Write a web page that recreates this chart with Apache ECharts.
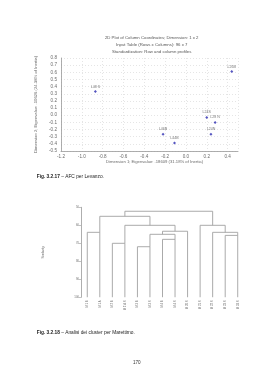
<!DOCTYPE html>
<html><head><meta charset="utf-8">
<script src="https://cdn.jsdelivr.net/npm/echarts@6/dist/echarts.min.js"></script>
<style>html,body{margin:0;padding:0;background:#fff}#c{width:268px;height:380px}</style>
</head><body><div id="c"></div>
<script>
// ---- Top chart (correspondence analysis) ----
const titleLines = ['2D Plot of Column Coordinates; Dimension: 1 x 2','Input Table (Rows x Columns): 96 x 7','Standardization: Row and column profiles'];
const xAxisTitle = 'Dimension 1; Eigenvalue: .18609 (31.18% of Inertia)';
const yAxisTitle = 'Dimension 2; Eigenvalue: .10626 (24.38% of Inertia)';
const pointLabels = ['L26B','L48 S','L24S','L28 N','L24N','L46B','L44B'];
const pointX = [0.44,-0.87,0.20,0.28,0.24,-0.22,-0.11];
const pointY = [0.61,0.33,-0.03,-0.10,-0.265,-0.265,-0.387];
// ---- Bottom chart (dendrogram) ----
const leafNames = ['M 1 B','M 1 A','M 2 B','M 2 A S','M 3 B','M 3 S','M 4 B','M 4 S','M 20 S','M 21 S','M 22 S','M 23 S','M 24 S'];
// merges: node ids 0..12 are leaves, merge k creates node 13+k
const mergeA = [4,2,6,11,13,0,10,17,14,9,18,23];
const mergeB = [5,3,7,12,15,1,16,8,20,19,21,22];
const mergeH = [71.9,70,67.8,65.6,65,63.9,63.9,63.3,60,60,55,52.2];
const simTitle = 'Similarity';
const caption1 = ['Fig. 3.2.17','– AFC per Levanzo.'];
const caption2 = ['Fig. 3.2.18','– Analisi dei cluster per Marettimo.'];
const pageNo = '170';

const FF = 'Liberation Sans, Arial, sans-serif';
const GRAY = '#6a6a6a';

// build dendrogram segments
const nodeX = leafNames.map((_, i) => i);
const nodeH = leafNames.map(() => 100);
const segs = [];
mergeA.forEach((a, k) => {
  const b = mergeB[k], h = mergeH[k];
  segs.push({coords: [[nodeX[a], nodeH[a]], [nodeX[a], h], [nodeX[b], h], [nodeX[b], nodeH[b]]]});
  nodeX.push((nodeX[a] + nodeX[b]) / 2);
  nodeH.push(h);
});

const chart = echarts.init(document.getElementById('c'), null, {renderer: 'canvas'});
chart.setOption({
  backgroundColor: '#fff',
  animation: false,
  grid: [
    {left: 61, right: 30, top: 58, bottom: 229, containLabel: false},
    {left: 81, right: 24, top: 207.3, bottom: 82.7, containLabel: false}
  ],
  xAxis: [
    {gridIndex: 0, type: 'value', min: -1.2, max: 0.5, interval: 0.2,
     name: xAxisTitle, nameLocation: 'middle', nameGap: 9,
     nameTextStyle: {fontSize: 4.2, color: GRAY, fontFamily: FF, padding: [0,0,0,10]},
     axisLine: {show: true, onZero: false, lineStyle: {color: '#999', width: 0.8}}, axisTick: {show: false},
     axisLabel: {fontSize: 4.6, color: GRAY, fontFamily: FF, margin: 3, showMaxLabel: false,
       formatter: v => v.toFixed(1)},
     splitLine: {show: true, lineStyle: {color: '#d4d4d4', type: [1, 2], width: 0.6}}},
    {gridIndex: 1, type: 'category', data: leafNames, boundaryGap: true,
     axisLine: {show: false, onZero: false}, axisTick: {show: false},
     axisLabel: {rotate: 90, fontSize: 2.8, color: GRAY, fontFamily: FF, margin: 3, interval: 0}}
  ],
  yAxis: [
    {gridIndex: 0, type: 'value', min: -0.5, max: 0.8, interval: 0.1,
     name: yAxisTitle, nameLocation: 'middle', nameGap: 16, nameRotate: 90,
     nameTextStyle: {fontSize: 4.2, color: GRAY, fontFamily: FF},
     axisLine: {show: true, onZero: false, lineStyle: {color: '#999', width: 0.8}}, axisTick: {show: false},
     axisLabel: {fontSize: 4.6, color: GRAY, fontFamily: FF, margin: 4,
       formatter: v => v.toFixed(1)},
     splitLine: {show: true, lineStyle: {color: '#d4d4d4', type: [1, 2], width: 0.6}}},
    {gridIndex: 1, type: 'value', min: 50, max: 100, interval: 10, inverse: true,
     name: simTitle, nameLocation: 'middle', nameGap: 36, nameRotate: 90,
     nameTextStyle: {fontSize: 3, color: GRAY, fontFamily: FF},
     axisLine: {show: true, onZero: false, lineStyle: {color: '#999', width: 0.8}},
     axisTick: {show: true, length: 2, lineStyle: {color: '#999', width: 0.6}},
     axisLabel: {fontSize: 2.8, color: GRAY, fontFamily: FF, margin: 2},
     splitLine: {show: false}}
  ],
  title: titleLines.map((t, i) => ({
    text: t, left: 146.7, top: 31 + i * 7, textAlign: 'center',
    textStyle: {fontSize: 4.3, fontWeight: 'normal', color: '#555', fontFamily: FF}
  })),
  series: [
    {type: 'scatter', xAxisIndex: 0, yAxisIndex: 0,
     data: pointX.map((x, i) => [x, pointY[i], pointLabels[i]]),
     symbol: 'diamond', symbolSize: 3, itemStyle: {color: '#2a2ab0'},
     label: {show: true, position: 'top', distance: 1.5, fontSize: 3.6, color: '#555', fontFamily: FF,
       formatter: p => p.value[2]}},
    {type: 'lines', coordinateSystem: 'cartesian2d', xAxisIndex: 1, yAxisIndex: 1,
     polyline: true, data: segs,
     lineStyle: {color: '#a0a0a0', width: 0.9, opacity: 1}}
  ],
  graphic: [
    {type: 'text', left: 36.7, top: 174, style: {
      text: '{b|' + caption1[0] + '} ' + caption1[1],
      font: '4.8px ' + FF, fill: '#222',
      rich: {b: {fontWeight: 'bold', fontSize: 4.8, fontFamily: FF, fill: '#222'}}}},
    {type: 'text', left: 36.7, top: 330.5, style: {
      text: '{b|' + caption2[0] + '} ' + caption2[1],
      font: '4.8px ' + FF, fill: '#222',
      rich: {b: {fontWeight: 'bold', fontSize: 4.8, fontFamily: FF, fill: '#222'}}}},
    {type: 'text', left: 133, top: 360.5, style: {text: pageNo, font: '4.6px ' + FF, fill: '#333'}}
  ]
});
</script></body></html>
